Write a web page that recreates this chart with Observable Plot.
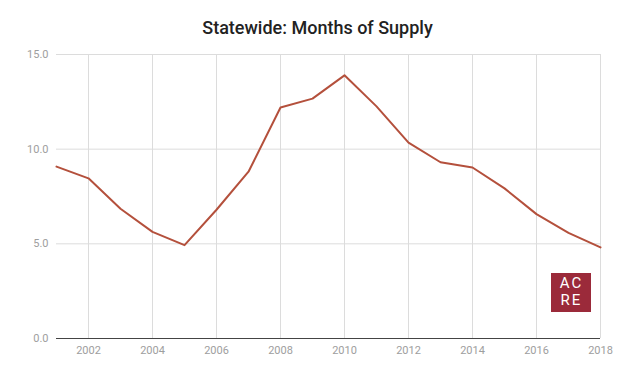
<!DOCTYPE html>
<html>
<head>
<meta charset="utf-8">
<script src="https://cdn.jsdelivr.net/npm/d3@7"></script>
<script src="https://cdn.jsdelivr.net/npm/@observablehq/plot@0.6"></script>
<style>
  html, body { margin: 0; padding: 0; background: #fff; }
  #wrap { position: relative; width: 640px; height: 377px; font-family: Roboto, "Open Sans", sans-serif; }
  #title { height: 44px; line-height: 56px; text-align: center; font-size: 18px; font-weight: 500; color: #222; padding-right: 5px; }
  #logo { position: absolute; left: 551px; top: 273px; width: 40px; height: 39px; background: #9b2a3a;
          color: #fff; font-size: 15px; line-height: 17px; text-align: center; padding-top: 2px; padding-left: 1px; letter-spacing: 2px; box-sizing: border-box; }
</style>
</head>
<body>
<div id="wrap">
  <div id="title">Statewide: Months of Supply</div>
  <div id="chart"></div>
  <div id="logo">AC<br>RE</div>
</div>
<script>
const years = [2001,2002,2003,2004,2005,2006,2007,2008,2009,2010,2011,2012,2013,2014,2015,2016,2017,2018];
const months = [9.08,8.46,6.85,5.63,4.93,6.8,8.81,12.2,12.67,13.9,12.26,10.35,9.31,9.03,7.93,6.57,5.58,4.81];
const xTicks = [2002,2004,2006,2008,2010,2012,2014,2016,2018];
const yTicks = [0,5,10,15];

const data = years.map((y, i) => ({year: y, value: months[i]}));

const chart = Plot.plot({
  width: 640,
  height: 333,
  marginTop: 10,
  marginBottom: 39,
  marginLeft: 56,
  marginRight: 40,
  style: {fontFamily: "Roboto, sans-serif", fontSize: "11px", color: "#9e9e9e", background: "#fff"},
  x: {domain: [2001, 2018], ticks: xTicks, tickFormat: d => String(d), label: null},
  y: {domain: [0, 15], ticks: yTicks, tickFormat: d => d.toFixed(1), label: null},
  marks: [
    Plot.gridX(xTicks, {stroke: "#dcdcdc", strokeOpacity: 1, strokeWidth: 1}),
    Plot.gridY(yTicks.filter(d => d > 0), {stroke: "#dcdcdc", strokeOpacity: 1, strokeWidth: 1}),
    Plot.axisX({ticks: xTicks, tickSize: 0, tickPadding: 8, tickFormat: d => String(d), fill: "#9e9e9e"}),
    Plot.axisY({ticks: yTicks, tickSize: 0, tickPadding: 8, tickFormat: d => d.toFixed(1), fill: "#9e9e9e"}),
    Plot.ruleY([0], {stroke: "#444", strokeWidth: 1}),
    Plot.line(data, {x: "year", y: "value", stroke: "#b4503c", strokeWidth: 2})
  ]
});
document.getElementById("chart").appendChild(chart);
</script>
</body>
</html>
